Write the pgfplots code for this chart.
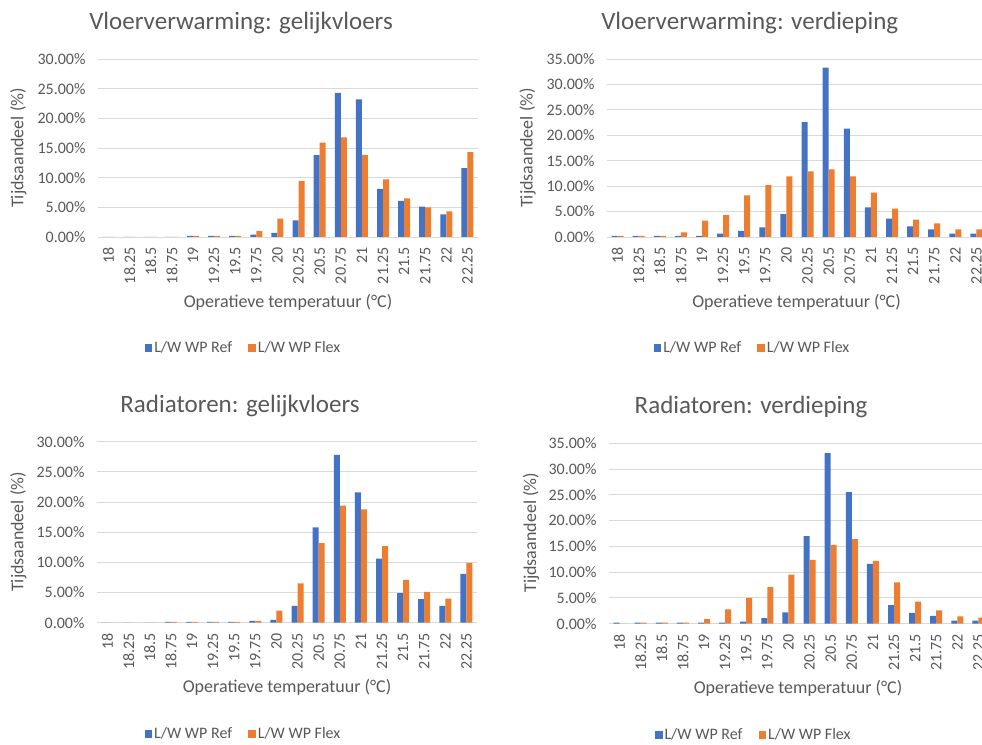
\documentclass[border=0pt]{standalone}
\usepackage{fontspec}
\setmainfont{Carlito}
\usepackage{pgfplots}
\usepackage{pgfplotstable}
\pgfplotsset{compat=1.18}

\definecolor{refblue}{HTML}{4472C4}
\definecolor{flexorange}{HTML}{ED7D31}
\definecolor{txtgray}{HTML}{595959}
\definecolor{gridgray}{HTML}{D9D9D9}

\newcommand\tickfont{\fontsize{16}{19}\selectfont}
\newcommand\labelfont{\fontsize{18}{21}\selectfont}
\newcommand\titlefont{\fontsize{25}{30}\selectfont}

% index 0..17 = 18, 18.25, ..., 22.25 degC; shares in percent
\pgfplotstableread{
i ref flex
0 0 0
1 0 0
2 0 0
3 0 0
4 0.2 0.2
5 0.2 0.2
6 0.2 0.2
7 0.4 1.0
8 0.7 3.1
9 2.8 9.4
10 13.8 15.9
11 24.3 16.8
12 23.2 13.8
13 8.1 9.7
14 6.1 6.5
15 5.1 5.0
16 3.8 4.3
17 11.6 14.3
}\vvgelijk

\pgfplotstableread{
i ref flex
0 0.2 0.2
1 0.2 0.2
2 0.2 0.2
3 0.2 0.9
4 0.2 3.2
5 0.65 4.3
6 1.2 8.2
7 1.9 10.2
8 4.5 11.9
9 22.6 12.9
10 33.3 13.3
11 21.3 11.9
12 5.8 8.7
13 3.6 5.6
14 2.1 3.4
15 1.5 2.7
16 0.65 1.5
17 0.65 1.5
}\vvverd

\pgfplotstableread{
i ref flex
0 0 0
1 0 0
2 0 0
3 0.15 0.15
4 0.15 0.15
5 0.15 0.15
6 0.15 0.15
7 0.3 0.3
8 0.45 2.0
9 2.8 6.5
10 15.8 13.2
11 27.8 19.4
12 21.6 18.8
13 10.6 12.7
14 4.9 7.1
15 3.9 5.1
16 2.8 4.0
17 8.1 9.9
}\radgelijk

\pgfplotstableread{
i ref flex
0 0.2 0
1 0.2 0.2
2 0.2 0.2
3 0.2 0.2
4 0.2 0.9
5 0.2 2.8
6 0.4 5.0
7 1.1 7.1
8 2.2 9.5
9 17.0 12.4
10 33.1 15.3
11 25.5 16.4
12 11.6 12.2
13 3.6 8.0
14 2.1 4.3
15 1.5 2.6
16 0.6 1.4
17 0.6 1.2
}\radverd

\pgfplotsset{
  tempbars/.style={
    scale only axis, width=380pt,
    ybar=0pt, bar width=6pt,
    xmin=-0.5, xmax=17.5, ymin=0,
    xtick={0,...,17},
    xticklabels={18,18.25,18.5,18.75,19,19.25,19.5,19.75,20,20.25,20.5,20.75,21,21.25,21.5,21.75,22,22.25},
    % rotated labels: local x points up, so a negative xshift moves them down
    xticklabel style={rotate=90, anchor=east, font=\tickfont, text=txtgray, xshift=-7pt},
    yticklabel style={font=\tickfont, text=txtgray, xshift=-9pt},
    ymajorgrids, grid style={gridgray, line width=0.9pt},
    axis line style={draw=none},
    major tick length=0pt,
    legend columns=2,
    legend style={draw=none, fill=none, font=\tickfont, text=txtgray, anchor=center,
      /tikz/every even column/.append style={column sep=14pt}},
  },
  y30/.style={ymax=30, ytick={0,5,...,30},
    yticklabels={0.00\%,5.00\%,10.00\%,15.00\%,20.00\%,25.00\%,30.00\%}},
  y35/.style={ymax=35, ytick={0,5,...,35},
    yticklabels={0.00\%,5.00\%,10.00\%,15.00\%,20.00\%,25.00\%,30.00\%,35.00\%}},
  sqlegend/.style={legend image code/.code={\fill[##1] (0pt,-3.8pt) rectangle (7.6pt,3.8pt);}},
  refbar/.style={fill=refblue, draw=none, sqlegend},
  flexbar/.style={fill=flexorange, draw=none, sqlegend},
}

\begin{document}
\begin{tikzpicture}
\useasboundingbox (0pt,0pt) rectangle (982pt,744pt);
\fill[white] (0pt,0pt) rectangle (982pt,744pt);
\clip (0pt,0pt) rectangle (982pt,744pt);

% Vloerverwarming: gelijkvloers
\begin{axis}[tempbars, y30, height=178pt, at={(98pt,507pt)}, anchor=south west,
  legend style={at={(0.383,-0.622)}}]
\addplot[refbar] table[x=i, y=ref] {\vvgelijk};
\addplot[flexbar] table[x=i, y=flex] {\vvgelijk};
\legend{L/W WP Ref, L/W WP Flex}
\end{axis}

% Vloerverwarming: verdieping
\begin{axis}[tempbars, y35, height=178pt, at={(607pt,507pt)}, anchor=south west,
  legend style={at={(0.383,-0.622)}}]
\addplot[refbar] table[x=i, y=ref] {\vvverd};
\addplot[flexbar] table[x=i, y=flex] {\vvverd};
\legend{L/W WP Ref, L/W WP Flex}
\end{axis}

% Radiatoren: gelijkvloers
\begin{axis}[tempbars, y30, height=181pt, at={(97pt,121.3pt)}, anchor=south west,
  legend style={at={(0.3855,-0.615)}}]
\addplot[refbar] table[x=i, y=ref] {\radgelijk};
\addplot[flexbar] table[x=i, y=flex] {\radgelijk};
\legend{L/W WP Ref, L/W WP Flex}
\end{axis}

% Radiatoren: verdieping
\begin{axis}[tempbars, y35, height=180.5pt, at={(609pt,120.3pt)}, anchor=south west,
  legend style={at={(0.381,-0.617)}}]
\addplot[refbar] table[x=i, y=ref] {\radverd};
\addplot[flexbar] table[x=i, y=flex] {\radverd};
\legend{L/W WP Ref, L/W WP Flex}
\end{axis}

% titles and axis names
\begin{scope}[every node/.style={text=txtgray, inner sep=0pt}]
\node[anchor=base, font=\titlefont] at (241pt,714.7pt) {Vloerverwarming: gelijkvloers};
\node[anchor=base, font=\titlefont] at (749.7pt,714.7pt) {Vloerverwarming: verdieping};
\node[anchor=base, font=\titlefont] at (240pt,331.3pt) {Radiatoren: gelijkvloers};
\node[anchor=base, font=\titlefont] at (751pt,330.3pt) {Radiatoren: verdieping};

\node[anchor=base, font=\labelfont] at (288pt,436.7pt) {Operatieve temperatuur (°C)};
\node[anchor=base, font=\labelfont] at (796.5pt,436.7pt) {Operatieve temperatuur (°C)};
\node[anchor=base, font=\labelfont] at (287pt,51pt) {Operatieve temperatuur (°C)};
\node[anchor=base, font=\labelfont] at (798pt,50pt) {Operatieve temperatuur (°C)};

\node[rotate=90, font=\labelfont] at (18.3pt,596pt) {Tijdsaandeel (\%)};
\node[rotate=90, font=\labelfont] at (527.7pt,596pt) {Tijdsaandeel (\%)};
\node[rotate=90, font=\labelfont] at (18.3pt,212pt) {Tijdsaandeel (\%)};
\node[rotate=90, font=\labelfont] at (531pt,211.2pt) {Tijdsaandeel (\%)};
\end{scope}
\end{tikzpicture}
\end{document}
